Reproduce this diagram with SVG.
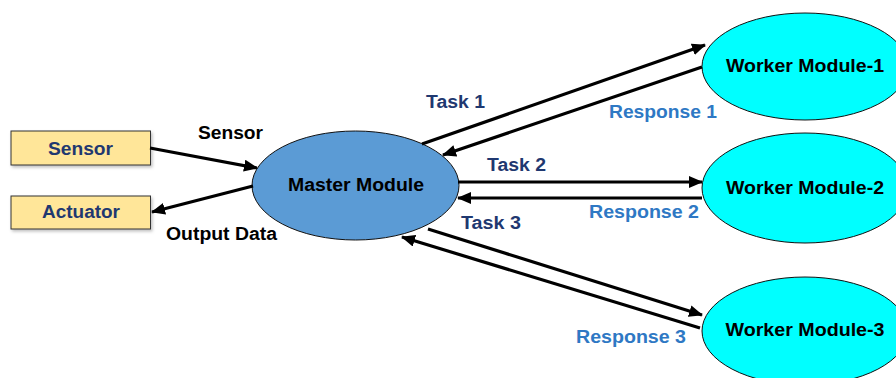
<svg xmlns="http://www.w3.org/2000/svg" width="896" height="378" viewBox="0 0 896 378">
<defs>
<marker id="ah" markerUnits="userSpaceOnUse" markerWidth="14" markerHeight="12" viewBox="0 0 14 12" refX="13" refY="6" orient="auto">
<path d="M0,0 L14,6 L0,12 z" fill="#000"/>
</marker>
<filter id="sh" x="-10%" y="-10%" width="130%" height="140%">
<feDropShadow dx="1.5" dy="2" stdDeviation="1.5" flood-color="#000" flood-opacity="0.25"/>
</filter>
</defs>
<style>
text{font-family:"Liberation Sans",Arial,sans-serif;font-weight:bold;font-size:17.5px;text-anchor:middle}
.box{fill:#FFE699;stroke:#333;stroke-width:1}
.master{fill:#5B9BD5;stroke:#111;stroke-width:1}
.worker{fill:#00FFFF;stroke:#111;stroke-width:1}
.blk{fill:#000}
.nav{fill:#1F3870}
.nodenav{fill:#1F3870}
.resp{fill:#2E78C4}
.conn line{stroke:#000;stroke-width:3.2;marker-end:url(#ah)}
</style>
<g id="sensor">
<rect class="box" x="11" y="131" width="139.5" height="34" filter="url(#sh)"/>
<text class="nodenav" x="80.5" y="155" textLength="65" lengthAdjust="spacingAndGlyphs">Sensor</text>
</g>
<g id="actuator">
<rect class="box" x="11" y="196" width="139.5" height="33" filter="url(#sh)"/>
<text class="nodenav" x="81" y="218" textLength="78" lengthAdjust="spacingAndGlyphs">Actuator</text>
</g>
<g id="master">
<ellipse class="master" cx="355.5" cy="185.5" rx="103.5" ry="54.5"/>
<text class="blk" x="356" y="191" textLength="136" lengthAdjust="spacingAndGlyphs">Master Module</text>
</g>
<g id="worker1">
<ellipse class="worker" cx="805" cy="66.5" rx="103" ry="53.5"/>
<text class="blk" x="805" y="72" textLength="158" lengthAdjust="spacingAndGlyphs">Worker Module-1</text>
</g>
<g id="worker2">
<ellipse class="worker" cx="805" cy="188" rx="103" ry="55"/>
<text class="blk" x="805" y="194" textLength="158" lengthAdjust="spacingAndGlyphs">Worker Module-2</text>
</g>
<g id="worker3">
<ellipse class="worker" cx="805" cy="331" rx="103" ry="54"/>
<text class="blk" x="805" y="336" textLength="159" lengthAdjust="spacingAndGlyphs">Worker Module-3</text>
</g>
<g id="connectors" class="conn">
<line x1="150" y1="148" x2="257" y2="168"/>
<line x1="253" y1="186" x2="152" y2="212"/>
<line x1="422" y1="144" x2="705" y2="45"/>
<line x1="702" y1="67" x2="443" y2="155"/>
<line x1="458" y1="182" x2="702" y2="182"/>
<line x1="702" y1="198" x2="458" y2="198"/>
<line x1="428" y1="229" x2="702" y2="315"/>
<line x1="700" y1="328" x2="402" y2="237"/>
</g>
<g id="labels">
<text class="blk" x="230.5" y="139" textLength="65" lengthAdjust="spacingAndGlyphs">Sensor</text>
<text class="blk" x="221.5" y="240" textLength="111" lengthAdjust="spacingAndGlyphs">Output Data</text>
<text class="nav" x="455.5" y="108" textLength="59" lengthAdjust="spacingAndGlyphs">Task 1</text>
<text class="resp" x="663" y="118" textLength="108" lengthAdjust="spacingAndGlyphs">Response 1</text>
<text class="nav" x="516.5" y="171" textLength="59" lengthAdjust="spacingAndGlyphs">Task 2</text>
<text class="resp" x="644" y="218" textLength="110" lengthAdjust="spacingAndGlyphs">Response 2</text>
<text class="nav" x="491" y="229" textLength="60" lengthAdjust="spacingAndGlyphs">Task 3</text>
<text class="resp" x="631" y="343" textLength="110" lengthAdjust="spacingAndGlyphs">Response 3</text>
</g>
</svg>
